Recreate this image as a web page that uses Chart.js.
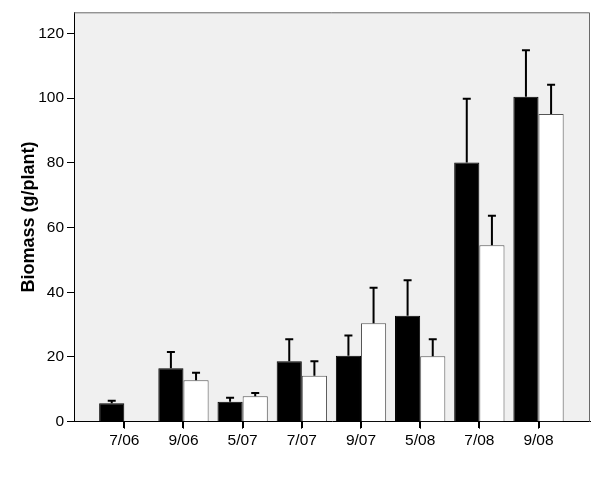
<!DOCTYPE html>
<html><head><meta charset="utf-8">
<script src="https://cdn.jsdelivr.net/npm/chart.js@4"></script>
<style>html,body{margin:0;padding:0;background:#fff}#wrap{width:600px;height:481px}</style>
</head><body><div id="wrap"><canvas id="c" width="600" height="481"></canvas></div>
<script>
const categories = ["7/06","9/06","5/07","7/07","9/07","5/08","7/08","9/08"];
const blackMeans = [5.7, 16.5, 6.2, 18.7, 20.4, 32.7, 80.1, 100.4];
const blackErrors = [0.8, 5.0, 1.2, 6.8, 6.2, 11.0, 19.7, 14.4];
const whiteMeans = [null, 12.8, 7.9, 14.2, 30.4, 20.2, 54.5, 95.1];
const whiteErrors = [null, 2.3, 1.0, 4.5, 11.0, 5.3, 9.1, 9.0];
const yTicks = [0, 20, 40, 60, 80, 100, 120];

const FONT = "'Liberation Sans', Arial, sans-serif";

const bgPlugin = {
  id: 'bg',
  beforeDraw(chart) {
    const {ctx, chartArea: a} = chart;
    ctx.save();
    ctx.fillStyle = '#f0f0f0';
    ctx.fillRect(a.left, a.top, a.right - a.left, a.bottom - a.top);
    ctx.restore();
  },
  afterDraw(chart) {
    const {ctx, chartArea: a} = chart;
    const xs = chart.scales.x;
    ctx.save();
    ctx.strokeStyle = '#6a6a6a';
    ctx.lineWidth = 1;
    ctx.beginPath();
    ctx.moveTo(a.left, a.top + 0.5);
    ctx.lineTo(a.right - 0.5, a.top + 0.5);
    ctx.lineTo(a.right - 0.5, a.bottom);
    ctx.stroke();
    ctx.fillStyle = '#000';
    for (let i = 0; i < categories.length; i++) {
      const x = Math.round(xs.getPixelForValue(i));
      ctx.fillRect(x - 1, Math.floor(a.bottom), 2, 7);
    }
    ctx.restore();
  }
};

const errPlugin = {
  id: 'err',
  afterDatasetsDraw(chart) {
    const {ctx} = chart;
    const ys = chart.scales.y;
    chart.data.datasets.forEach((ds, di) => {
      const meta = chart.getDatasetMeta(di);
      meta.data.forEach((bar, i) => {
        const m = ds.means[i], e = ds.errors[i];
        if (m == null || e == null) return;
        const x = bar.x;
        const y0 = ys.getPixelForValue(m);
        const y1 = ys.getPixelForValue(m + e);
        ctx.save();
        ctx.strokeStyle = '#000';
        ctx.lineWidth = 2;
        ctx.beginPath();
        ctx.moveTo(x, y0);
        ctx.lineTo(x, y1);
        ctx.moveTo(x - 4, y1);
        ctx.lineTo(x + 4, y1);
        ctx.stroke();
        ctx.restore();
      });
    });
  }
};

new Chart(document.getElementById('c'), {
  type: 'bar',
  data: {
    datasets: [
      {
        label: 'A',
        data: blackMeans.map((v, i) => ({x: i, y: v})),
        means: blackMeans, errors: blackErrors,
        backgroundColor: '#000', borderColor: '#000', borderWidth: 1,
        categoryPercentage: 0.85, barPercentage: 1.0
      },
      {
        label: 'B',
        data: whiteMeans.map((v, i) => ({x: i, y: v})),
        means: whiteMeans, errors: whiteErrors,
        backgroundColor: '#fff', borderColor: '#555', borderWidth: 1,
        categoryPercentage: 0.85, barPercentage: 1.0
      }
    ]
  },
  options: {
    responsive: false,
    animation: false,
    devicePixelRatio: 1,
    layout: {padding: {top: 12, right: 10, left: 0, bottom: 0}},
    plugins: {legend: {display: false}, tooltip: {enabled: false}},
    scales: {
      x: {
        type: 'linear',
        offset: false,
        min: -0.85, max: 7.87,
        afterBuildTicks(s) { s.ticks = categories.map((c, i) => ({value: i})); },
        afterFit(s) { s.height = 59.3; },
        grid: {offset: false, drawOnChartArea: false, drawTicks: true, tickLength: 7, tickColor: '#000', lineWidth: 1},
        border: {color: '#000', width: 1},
        ticks: {
          autoSkip: false, maxRotation: 0, padding: 3,
          color: '#000', font: {family: FONT, size: 15.5},
          callback: (v) => categories[v] ?? ''
        }
      },
      y: {
        min: 0, max: 126.5,
        afterBuildTicks(s) { s.ticks = yTicks.map(v => ({value: v})); },
        afterFit(s) { s.width = 74; },
        grid: {drawOnChartArea: false, drawTicks: true, tickLength: 7, tickColor: '#000', lineWidth: 1},
        border: {color: '#000', width: 1},
        ticks: {padding: 3, color: '#000', font: {family: FONT, size: 15.5}},
        title: {
          display: true, text: 'Biomass (g/plant)',
          color: '#000', font: {family: FONT, size: 18, weight: 'bold'},
          padding: {top: 18, bottom: 0}
        }
      }
    }
  },
  plugins: [bgPlugin, errPlugin]
});
</script>
</body></html>
